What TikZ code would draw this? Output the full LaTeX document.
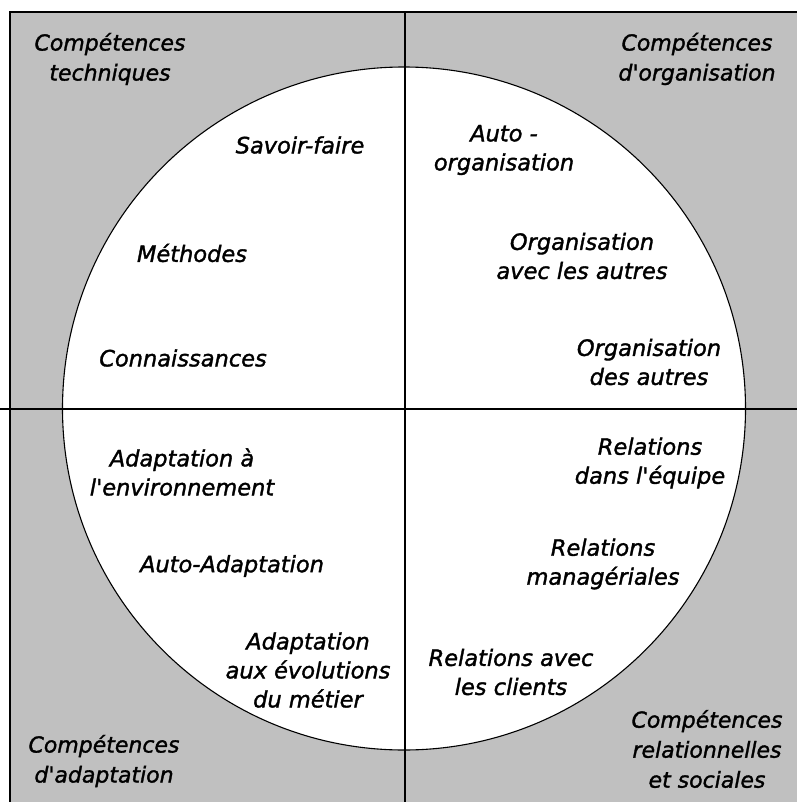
\documentclass[tikz,border=0pt]{standalone}
\usepackage{fontspec}
\setmainfont{DejaVu Sans}
\newfontfamily\heavyfont{DejaVu Sans}[FakeBold=1.5]
\definecolor{panelgray}{RGB}{192,192,192}
\begin{document}
\begin{tikzpicture}[x=1pt,y=-1pt,
  corner/.style={font=\heavyfont\fontsize{22}{30}\selectfont\itshape, align=center, inner sep=0pt, text=black},
  item/.style={font=\heavyfont\fontsize{22.5}{29}\selectfont\itshape, align=center, inner sep=0pt, text=black},
  axis/.style={line width=1.8pt, black}]
\useasboundingbox (0,0) rectangle (796,802);
% frame / background
\fill[panelgray] (10,12) rectangle (800,806);
\draw[line width=1.6pt] (800,12) -- (10,12) -- (10,806);
% circle
\coordinate (c) at (404,408.5);
\draw[fill=white, line width=1.1pt] (c) circle[radius=341.5];
% axes
\coordinate (vt) at (405,12);
\coordinate (vb) at (405,806);
\coordinate (hl) at (0,409);
\coordinate (hr) at (800,409);
\draw[axis] (vt) -- (vb);
\draw[axis] (hl) -- (hr);
% corner labels
\node[corner] (tl) at (110,59) {Compétences\\techniques};
\node[corner] (tr) at (697,59) {Compétences\\d'organisation};
\node[corner] (bl) at (104,761) {Compétences\\d'adaptation};
\node[corner] (br) at (707,749) {Compétences\\relationnelles\\et sociales};
% technical
\node[item] (sf) at (300,145) {Savoir-faire};
\node[item] (me) at (192,253) {Méthodes};
\node[item] (co) at (183,358) {Connaissances};
% organisation
\node[item] (ao) at (504,150) {Auto -\\organisation};
\node[item] (oa) at (582,256) {Organisation\\avec les autres};
\node[item] (od) at (649,362) {Organisation\\des autres};
% relations
\node[item] (re) at (650,463) {Relations\\dans l'équipe};
\node[item] (rm) at (603,564) {Relations\\managériales};
\node[item] (rc) at (511,672) {Relations avec\\les clients};
% adaptation
\node[item] (ae) at (182,472) {Adaptation à\\l'environnement};
\node[item] (aa) at (232,566) {Auto-Adaptation};
\node[item] (am) at (308,670) {Adaptation\\aux évolutions\\du métier};
\end{tikzpicture}
\end{document}
